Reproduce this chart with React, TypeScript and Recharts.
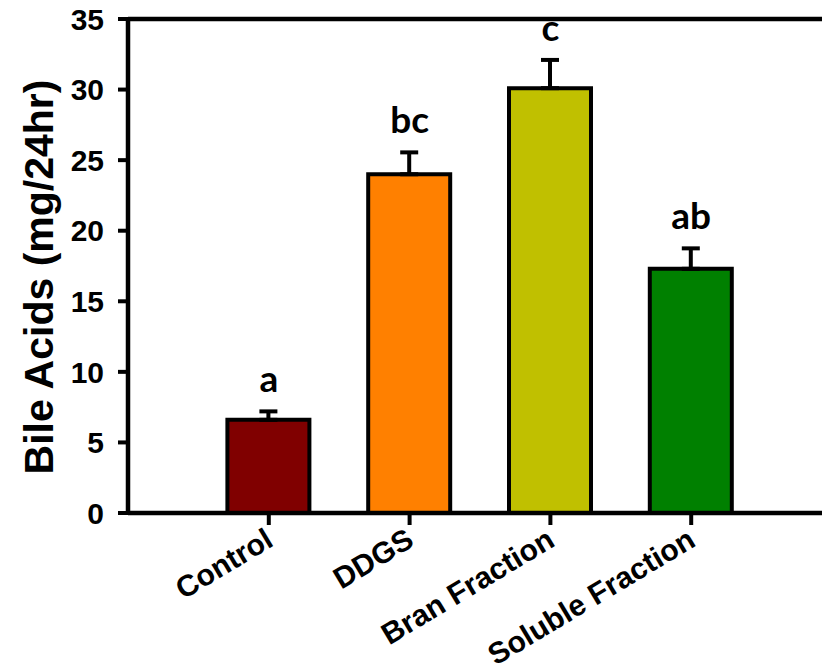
import { ComposedChart, Bar, Line, XAxis, YAxis, Cell, ErrorBar, ReferenceLine, LabelList } from "recharts";

const categories = ["Control", "DDGS", "Bran Fraction", "Soluble Fraction"];
const means = [6.6, 24.0, 30.1, 17.3];
const sems = [0.6, 1.55, 2.0, 1.45];
const letters = ["a", "bc", "c", "ab"];
const colors = ["#800000", "#FF8000", "#C0C000", "#008000"];
const yTicks = [0, 5, 10, 15, 20, 25, 30, 35];

const data = categories.map((name, i) => ({
  pos: i + 1,
  name,
  value: means[i],
  err: [0, sems[i]],
  top: means[i] + sems[i],
  letter: letters[i],
}));

const axisFont = "'Liberation Sans', Arial, sans-serif";

const XTick = ({ x, y, payload }: any) => {
  const label = categories[payload.value - 1] ?? "";
  return (
    <g transform={`translate(${x + 6},${y + 18}) rotate(-31)`}>
      <text x={0} y={0} textAnchor="end" fontFamily={axisFont} fontWeight="bold" fontSize={30} fill="#000">
        {label}
      </text>
    </g>
  );
};

const YLabel = ({ viewBox }: any) => {
  const cx = viewBox.x + 53;
  const cy = viewBox.y + viewBox.height / 2 + 11;
  return (
    <text x={cx} y={cy} transform={`rotate(-90, ${cx}, ${cy})`} textAnchor="middle" fontFamily={axisFont} fontWeight="bold" fontSize={41} fill="#000">
      Bile Acids (mg/24hr)
    </text>
  );
};

export default function App() {
  return (
    <div style={{ position: "absolute", left: 0, top: 0, width: 822, height: 671, overflow: "hidden", background: "#fff" }}>
      <ComposedChart width={832} height={671} data={data} margin={{ top: 19, right: 0, bottom: 0, left: 0 }}>
        <XAxis
          type="number"
          dataKey="pos"
          domain={[0, 5]}
          ticks={[1, 2, 3, 4]}
          tick={<XTick />}
          tickSize={12}
          height={158}
          axisLine={{ stroke: "#000", strokeWidth: 4.5 }}
          tickLine={{ stroke: "#000", strokeWidth: 4 }}
        />
        <YAxis
          type="number"
          domain={[0, 35]}
          ticks={yTicks}
          width={128}
          tickSize={10}
          tickMargin={14}
          interval={0}
          axisLine={{ stroke: "#000", strokeWidth: 4.5 }}
          tickLine={{ stroke: "#000", strokeWidth: 4 }}
          tick={{ fill: "#000", fontSize: 30, fontWeight: "bold", fontFamily: axisFont }}
          label={<YLabel />}
        />
        <ReferenceLine y={35} stroke="#000" strokeWidth={4.5} />
        <Bar dataKey="value" barSize={82} stroke="#000" strokeWidth={4} isAnimationActive={false}>
          {data.map((d, i) => (
            <Cell key={d.name} fill={colors[i]} />
          ))}
          <ErrorBar dataKey="err" direction="y" width={9} stroke="#000" strokeWidth={4} />
        </Bar>
        <Line dataKey="top" stroke="none" dot={false} activeDot={false} isAnimationActive={false}>
          <LabelList
            dataKey="letter"
            position="top"
            offset={19}
            fill="#000"
            fontSize={37}
            fontWeight="bold"
            fontFamily="Lato, 'Open Sans', sans-serif"
          />
        </Line>
      </ComposedChart>
    </div>
  );
}
